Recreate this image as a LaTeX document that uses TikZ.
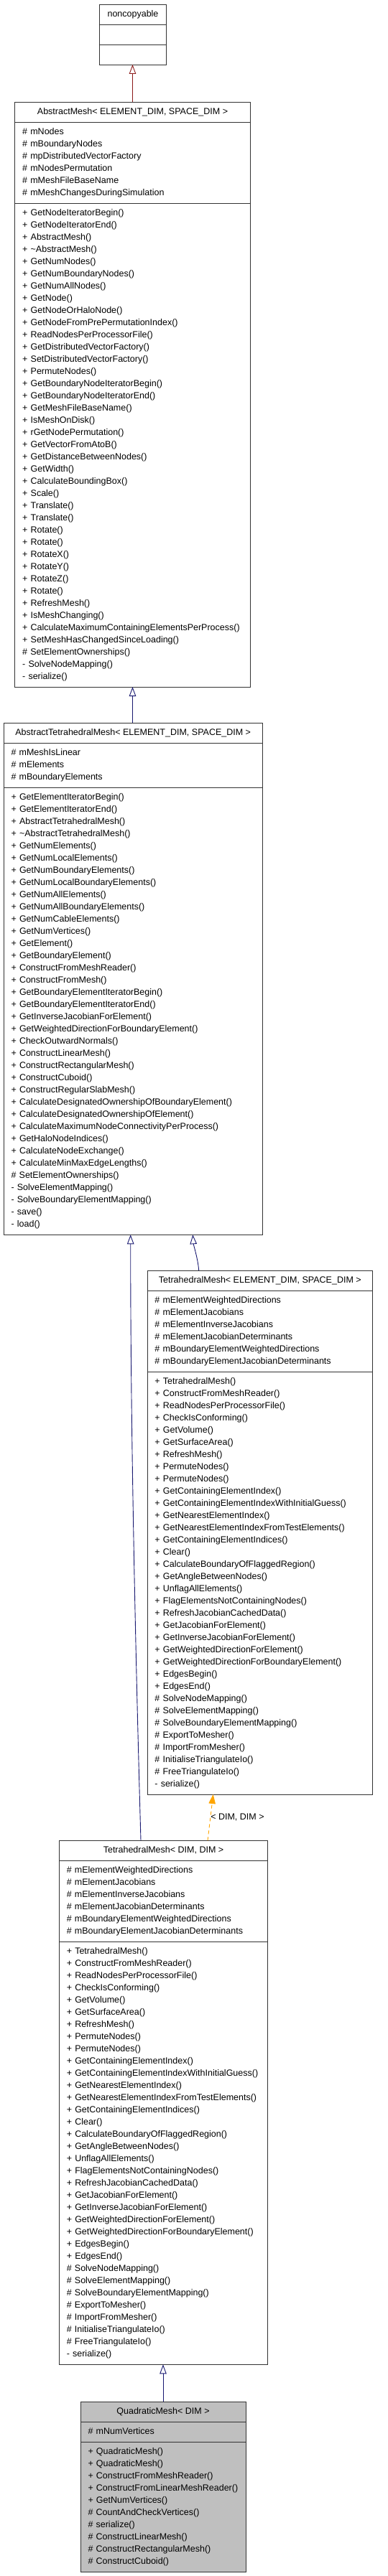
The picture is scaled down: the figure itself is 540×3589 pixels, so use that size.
\documentclass[tikz,border=0pt]{standalone}
\usepackage{fontspec}
\setmainfont{Liberation Sans}
\usetikzlibrary{positioning}
\usetikzlibrary{arrows.meta}

\definecolor{inhblue}{HTML}{191970}
\definecolor{inhred}{HTML}{8B1A1A}
\definecolor{tmplorange}{HTML}{FFA500}
\definecolor{leafgray}{HTML}{BFBFBF}

\newcommand{\umlfont}{\fontsize{12.5}{17}\selectfont\hyphenpenalty=10000\relax}

% members shared by both TetrahedralMesh boxes
\newcommand{\tetattrs}{\strut\#~mElementWeightedDirections\\
\#~mElementJacobians\\
\#~mElementInverseJacobians\\
\#~mElementJacobianDeterminants\\
\#~mBoundaryElementWeightedDirections\\
\#~mBoundaryElementJacobianDeterminants\strut}
\newcommand{\tetmethods}{\strut+~TetrahedralMesh()\\
+~ConstructFromMeshReader()\\
+~ReadNodesPerProcessorFile()\\
+~CheckIsConforming()\\
+~GetVolume()\\
+~GetSurfaceArea()\\
+~RefreshMesh()\\
+~PermuteNodes()\\
+~PermuteNodes()\\
+~GetContainingElementIndex()\\
+~GetContainingElementIndexWithInitialGuess()\\
+~GetNearestElementIndex()\\
+~GetNearestElementIndexFromTestElements()\\
+~GetContainingElementIndices()\\
+~Clear()\\
+~CalculateBoundaryOfFlaggedRegion()\\
+~GetAngleBetweenNodes()\\
+~UnflagAllElements()\\
+~FlagElementsNotContainingNodes()\\
+~RefreshJacobianCachedData()\\
+~GetJacobianForElement()\\
+~GetInverseJacobianForElement()\\
+~GetWeightedDirectionForElement()\\
+~GetWeightedDirectionForBoundaryElement()\\
+~EdgesBegin()\\
+~EdgesEnd()\\
\#~SolveNodeMapping()\\
\#~SolveElementMapping()\\
\#~SolveBoundaryElementMapping()\\
\#~ExportToMesher()\\
\#~ImportFromMesher()\\
\#~InitialiseTriangulateIo()\\
\#~FreeTriangulateIo()\\
-~serialize()\strut}

\tikzset{
  boxline/.style={draw=black!80, line width=0.9pt, outer sep=0pt, inner xsep=10.5pt, inner ysep=5.5pt, font=\umlfont},
  ctitle/.style={boxline, minimum width=#1, align=center},
  cpart/.style={boxline, text width=#1, align=left},
  pubinh/.style={inhblue, line width=0.9pt, ->, >={Triangle[open,length=13pt,width=9.5pt]}},
}

\begin{document}
\begin{tikzpicture}[x=1pt, y=-1pt]
\useasboundingbox (0,0) rectangle (540,3589);

% noncopyable
\node[ctitle=93pt, anchor=north] (ncT) at (185,6) {\strut noncopyable};
\node[cpart=72pt, below=0pt of ncT] (ncA) {\strut};
\node[cpart=72pt, below=0pt of ncA] (ncM) {\strut};

% AbstractMesh
\node[ctitle=327.6pt, anchor=north] (amT) at (184.5,142) {\strut AbstractMesh< ELEMENT\_DIM, SPACE\_DIM >};
\node[cpart=306.6pt, below=0pt of amT] (amA) {\strut\#~mNodes\\
\#~mBoundaryNodes\\
\#~mpDistributedVectorFactory\\
\#~mNodesPermutation\\
\#~mMeshFileBaseName\\
\#~mMeshChangesDuringSimulation\strut};
\node[cpart=306.6pt, below=0pt of amA] (amM) {\strut+~GetNodeIteratorBegin()\\
+~GetNodeIteratorEnd()\\
+~AbstractMesh()\\
+~\textasciitilde AbstractMesh()\\
+~GetNumNodes()\\
+~GetNumBoundaryNodes()\\
+~GetNumAllNodes()\\
+~GetNode()\\
+~GetNodeOrHaloNode()\\
+~GetNodeFromPrePermutationIndex()\\
+~ReadNodesPerProcessorFile()\\
+~GetDistributedVectorFactory()\\
+~SetDistributedVectorFactory()\\
+~PermuteNodes()\\
+~GetBoundaryNodeIteratorBegin()\\
+~GetBoundaryNodeIteratorEnd()\\
+~GetMeshFileBaseName()\\
+~IsMeshOnDisk()\\
+~rGetNodePermutation()\\
+~GetVectorFromAtoB()\\
+~GetDistanceBetweenNodes()\\
+~GetWidth()\\
+~CalculateBoundingBox()\\
+~Scale()\\
+~Translate()\\
+~Translate()\\
+~Rotate()\\
+~Rotate()\\
+~RotateX()\\
+~RotateY()\\
+~RotateZ()\\
+~Rotate()\\
+~RefreshMesh()\\
+~IsMeshChanging()\\
+~CalculateMaximumContainingElementsPerProcess()\\
+~SetMeshHasChangedSinceLoading()\\
\#~SetElementOwnerships()\\
-~SolveNodeMapping()\\
-~serialize()\strut};

% AbstractTetrahedralMesh
\node[ctitle=360.3pt, anchor=north] (atmT) at (185.2,1007.3) {\strut AbstractTetrahedralMesh< ELEMENT\_DIM, SPACE\_DIM >};
\node[cpart=339.3pt, below=0pt of atmT] (atmA) {\strut\#~mMeshIsLinear\\
\#~mElements\\
\#~mBoundaryElements\strut};
\node[cpart=339.3pt, below=0pt of atmA] (atmM) {\strut+~GetElementIteratorBegin()\\
+~GetElementIteratorEnd()\\
+~AbstractTetrahedralMesh()\\
+~\textasciitilde AbstractTetrahedralMesh()\\
+~GetNumElements()\\
+~GetNumLocalElements()\\
+~GetNumBoundaryElements()\\
+~GetNumLocalBoundaryElements()\\
+~GetNumAllElements()\\
+~GetNumAllBoundaryElements()\\
+~GetNumCableElements()\\
+~GetNumVertices()\\
+~GetElement()\\
+~GetBoundaryElement()\\
+~ConstructFromMeshReader()\\
+~ConstructFromMesh()\\
+~GetBoundaryElementIteratorBegin()\\
+~GetBoundaryElementIteratorEnd()\\
+~GetInverseJacobianForElement()\\
+~GetWeightedDirectionForBoundaryElement()\\
+~CheckOutwardNormals()\\
+~ConstructLinearMesh()\\
+~ConstructRectangularMesh()\\
+~ConstructCuboid()\\
+~ConstructRegularSlabMesh()\\
+~CalculateDesignatedOwnershipOfBoundaryElement()\\
+~CalculateDesignatedOwnershipOfElement()\\
+~CalculateMaximumNodeConnectivityPerProcess()\\
+~GetHaloNodeIndices()\\
+~CalculateNodeExchange()\\
+~CalculateMinMaxEdgeLengths()\\
\#~SetElementOwnerships()\\
-~SolveElementMapping()\\
-~SolveBoundaryElementMapping()\\
-~save()\\
-~load()\strut};

% TetrahedralMesh< ELEMENT_DIM, SPACE_DIM >
\node[ctitle=313.7pt, anchor=north] (tmesT) at (361.8,1770) {\strut TetrahedralMesh< ELEMENT\_DIM, SPACE\_DIM >};
\node[cpart=292.7pt, below=0pt of tmesT] (tmesA) {\tetattrs};
\node[cpart=292.7pt, below=0pt of tmesA] (tmesM) {\tetmethods};

% TetrahedralMesh< DIM, DIM >
\node[ctitle=290.4pt, anchor=north] (tmddT) at (227.5,2564.3) {\strut TetrahedralMesh< DIM, DIM >};
\node[cpart=269.4pt, below=0pt of tmddT] (tmddA) {\tetattrs};
\node[cpart=269.4pt, below=0pt of tmddA] (tmddM) {\tetmethods};

% QuadraticMesh
\node[ctitle=230pt, fill=leafgray, anchor=north] (qmT) at (227,3346) {\strut QuadraticMesh< DIM >};
\node[cpart=209pt, fill=leafgray, below=0pt of qmT] (qmA) {\strut\#~mNumVertices\strut};
\node[cpart=209pt, fill=leafgray, below=0pt of qmA] (qmM) {\strut+~QuadraticMesh()\\
+~QuadraticMesh()\\
+~ConstructFromMeshReader()\\
+~ConstructFromLinearMeshReader()\\
+~GetNumVertices()\\
\#~CountAndCheckVertices()\\
\#~serialize()\\
\#~ConstructLinearMesh()\\
\#~ConstructRectangularMesh()\\
\#~ConstructCuboid()\strut};

% inheritance
\draw[pubinh, inhred] (amT.north) -- (amT.north |- ncM.south);
\draw[pubinh] (amM.south |- atmT.north) -- (amM.south);
\draw[pubinh] ([xshift=-31.5pt]tmddT.north) .. controls +(-4,-144) and +(0,330) .. ([xshift=-3.5pt]atmM.south);
\draw[pubinh] ([xshift=-85.1pt]tmesT.north) .. controls +(-1,-15) and +(1,14) .. ([xshift=83.1pt]atmM.south);
\draw[tmplorange, line width=0.9pt, dash pattern=on 5pt off 4pt, ->, >={Triangle[length=13pt,width=9.5pt]}] ([xshift=61.5pt]tmddT.north) -- node[anchor=west, inner sep=0pt, font=\umlfont, text=black] {< DIM, DIM >} ([xshift=-65.1pt]tmesM.south);
\draw[pubinh] (qmT.north) -- (qmT.north |- tmddM.south);

\end{tikzpicture}
\end{document}
